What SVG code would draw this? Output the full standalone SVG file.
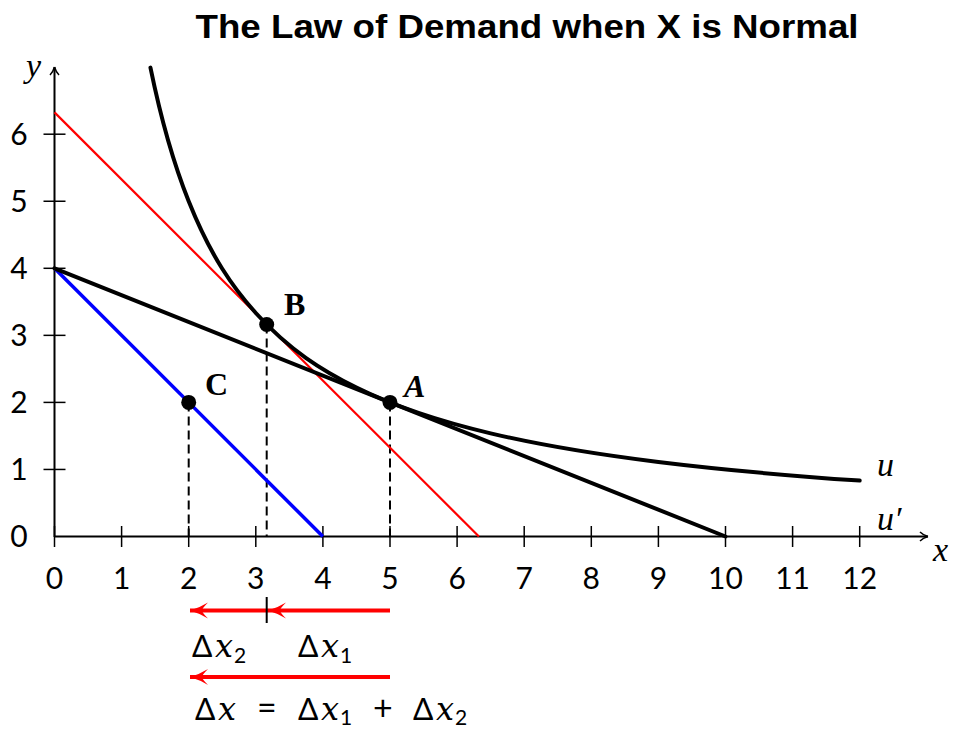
<svg xmlns="http://www.w3.org/2000/svg" width="957" height="732" viewBox="0 0 957 732">
<style>
.ax{stroke:#000;stroke-width:2;fill:none}
.tk{stroke:#000;stroke-width:1.5}
.num{font-family:"Lato","DejaVu Sans",sans-serif;font-size:30px;fill:#000}
.var{font-family:"Liberation Serif",serif;font-style:italic;font-size:34px;fill:#000}
.lbl{font-family:"Liberation Serif",serif;font-weight:bold;font-size:32px;fill:#000}
.dash{stroke:#000;stroke-width:2;stroke-dasharray:9 5;fill:none}
.thick{stroke:#000;stroke-width:4;fill:none;stroke-linecap:round}
.red{stroke:#ff0000;stroke-width:4;fill:none}
.math{font-family:"Lato","DejaVu Sans",sans-serif;font-size:30px;fill:#000}
.mx{font-family:"DejaVu Serif",serif;font-style:italic;font-size:32px}
.op{font-size:34px}
.sub{font-size:21px}
</style>
<defs>
<marker id="ah" markerUnits="userSpaceOnUse" markerWidth="24" markerHeight="20" viewBox="-20 -10 24 20" refX="0" refY="0" orient="auto">
<path d="M0,0 Q-10,-3 -18,-8 Q-12,-2 -12,0 Q-12,2 -18,8 Q-10,3 0,0z" fill="#ff0000"/>
</marker>
<marker id="axh" markerUnits="userSpaceOnUse" markerWidth="14" markerHeight="12" viewBox="-10 -6 12 12" refX="0" refY="0" orient="auto">
<path d="M0,0 Q-5,-1.5 -8,-4.5 M0,0 Q-5,1.5 -8,4.5" stroke="#000" stroke-width="1.5" fill="none"/>
</marker>
</defs>
<text x="527" y="38" text-anchor="middle" font-family="'Liberation Sans',sans-serif" font-weight="bold" font-size="33" textLength="663" lengthAdjust="spacingAndGlyphs">The Law of Demand when X is Normal</text>
<g id="axes">
<line class="ax" x1="54.5" y1="537" x2="54.5" y2="67" marker-end="url(#axh)"/>
<line class="ax" x1="54" y1="536.5" x2="928" y2="536.5" marker-end="url(#axh)"/>
<g class="tk">
<line x1="54.5" y1="526" x2="54.5" y2="547"/><line x1="121.6" y1="526" x2="121.6" y2="547"/><line x1="188.7" y1="526" x2="188.7" y2="547"/><line x1="255.8" y1="526" x2="255.8" y2="547"/><line x1="322.9" y1="526" x2="322.9" y2="547"/><line x1="390" y1="526" x2="390" y2="547"/><line x1="457.1" y1="526" x2="457.1" y2="547"/><line x1="524.2" y1="526" x2="524.2" y2="547"/><line x1="591.3" y1="526" x2="591.3" y2="547"/><line x1="658.4" y1="526" x2="658.4" y2="547"/><line x1="725.5" y1="526" x2="725.5" y2="547"/><line x1="792.6" y1="526" x2="792.6" y2="547"/><line x1="859.7" y1="526" x2="859.7" y2="547"/>
<line x1="43.5" y1="469.45" x2="65.5" y2="469.45"/><line x1="43.5" y1="402.4" x2="65.5" y2="402.4"/><line x1="43.5" y1="335.35" x2="65.5" y2="335.35"/><line x1="43.5" y1="268.3" x2="65.5" y2="268.3"/><line x1="43.5" y1="201.25" x2="65.5" y2="201.25"/><line x1="43.5" y1="134.2" x2="65.5" y2="134.2"/>
</g>
<g class="num" text-anchor="middle">
<text x="54.5" y="589">0</text><text x="121.6" y="589">1</text><text x="188.7" y="589">2</text><text x="255.8" y="589">3</text><text x="322.9" y="589">4</text><text x="390" y="589">5</text><text x="457.1" y="589">6</text><text x="524.2" y="589">7</text><text x="591.3" y="589">8</text><text x="658.4" y="589">9</text><text x="725.5" y="589">10</text><text x="792.6" y="589">11</text><text x="859.7" y="589">12</text>
</g>
<g class="num" text-anchor="middle">
<text x="19" y="547">0</text><text x="19" y="480">1</text><text x="19" y="413">2</text><text x="19" y="346">3</text><text x="19" y="279">4</text><text x="19" y="212">5</text><text x="19" y="145">6</text>
</g>
<text class="var" x="26" y="77">y</text>
<text class="var" x="933" y="561">x</text>
</g>
<g id="connectors">
<line class="dash" x1="188.7" y1="402.4" x2="188.7" y2="536"/>
<line class="dash" x1="266.7" y1="324.5" x2="266.7" y2="536"/>
<line class="dash" x1="390" y1="402.4" x2="390" y2="536"/>
</g>
<g id="budget-red"><line x1="54.5" y1="112.4" x2="478.9" y2="536.5" stroke="#ff0000" stroke-width="2.2"/></g>
<g id="budget-blue"><line x1="54.5" y1="268.3" x2="322.9" y2="536.5" stroke="#0000ff" stroke-width="3.5"/></g>
<g id="budget-black"><line class="thick" x1="54.5" y1="268.3" x2="725.5" y2="536.5"/></g>
<g id="curve-u">
<path class="thick" d="M150.45,67.6 C163.2,129.9 175.95,169.4 188.7,201.25 C211.07,257.13 233.43,288.17 255.8,313 C289.35,350.25 322.9,370.95 356.45,387.5 C401.19,409.57 445.94,422.76 490.65,433.35 C546.57,446.57 602.5,455.1 658.4,462 C725.5,470.28 792.6,475.97 859.7,480.62"/>
<text class="var" x="877" y="476">u</text>
<text class="var" x="877" y="530">u′</text>
</g>
<g id="point-A"><circle cx="390" cy="402.4" r="7.5"/><text class="lbl" x="404" y="397" font-style="italic">A</text></g>
<g id="point-B"><circle cx="266.7" cy="324.5" r="7.5"/><text class="lbl" x="284" y="315">B</text></g>
<g id="point-C"><circle cx="188.7" cy="402.4" r="7.5"/><text class="lbl" x="205" y="395">C</text></g>
<g id="arrows">
<line class="red" x1="390" y1="610.5" x2="268" y2="610.5" marker-end="url(#ah)"/>
<line class="red" x1="268" y1="610.5" x2="190" y2="610.5" marker-end="url(#ah)"/>
<line x1="266.7" y1="597" x2="266.7" y2="623" stroke="#000" stroke-width="2"/>
<line class="red" x1="390" y1="677" x2="190" y2="677" marker-end="url(#ah)"/>
</g>
<g id="delta-labels" class="math">
<text x="192" y="657">Δ<tspan class="mx" x="215">x</tspan><tspan class="sub" x="234" dy="6">2</tspan></text>
<text x="298" y="657">Δ<tspan class="mx" x="321">x</tspan><tspan class="sub" x="340" dy="6">1</tspan></text>
<text x="195" y="720">Δ<tspan class="mx" x="218">x</tspan><tspan class="op" x="257">=</tspan><tspan x="298">Δ</tspan><tspan class="mx" x="321">x</tspan><tspan class="sub" x="340" dy="5">1</tspan><tspan class="op" x="373" dy="-5">+</tspan><tspan x="413">Δ</tspan><tspan class="mx" x="436">x</tspan><tspan class="sub" x="455" dy="5">2</tspan></text>
</g>
</svg>
